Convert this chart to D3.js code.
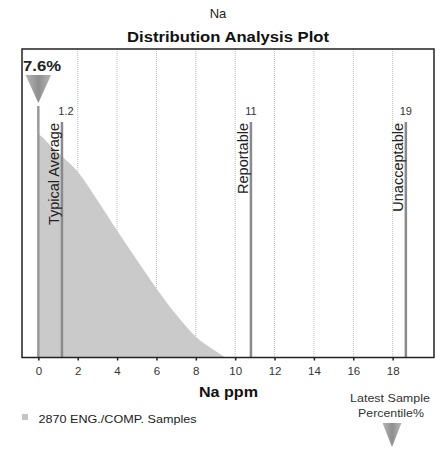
<!DOCTYPE html>
<html><head><meta charset="utf-8">
<script src="https://cdn.jsdelivr.net/npm/d3@7"></script>
<style>
html,body{margin:0;padding:0;background:#fff;}
svg{display:block;font-family:"Liberation Sans",Arial,sans-serif;}
</style></head>
<body>
<script>
// ---- data ----
const title = "Na";
const subtitle = "Distribution Analysis Plot";
const xLabel = "Na ppm";
const xTicks = [0, 2, 4, 6, 8, 10, 12, 14, 16, 18];
const distX = [0, 0.1, 0.6, 1.2, 2, 3, 4, 5, 6, 7, 8, 9, 9.5];
const distY = [72.4, 72.0, 68.8, 65.2, 60.2, 51.0, 41.2, 31.7, 22.4, 13.9, 6.7, 2.1, 0];
const limitNames = ["Typical Average", "Reportable", "Unacceptable"];
const limitValues = [1.2, 10.8, 18.67];
const limitLabels = ["1.2", "11", "19"];
const percentileValue = 0;
const percentileLabel = "7.6%";
const legendLabel = "2870 ENG./COMP. Samples";
const latestLabel = ["Latest Sample", "Percentile%"];

const W = 444, H = 449;
const L = 22, R = 434, T = 49, B = 357.5;

const svg = d3.select("body").append("svg").attr("width", W).attr("height", H);
const defs = svg.append("defs");
const g1 = defs.append("linearGradient").attr("id","tri").attr("x1","0").attr("x2","1").attr("y1","0").attr("y2","0");
g1.append("stop").attr("offset","0%").attr("stop-color","#b8b8b8");
g1.append("stop").attr("offset","50%").attr("stop-color","#8e8e8e");
g1.append("stop").attr("offset","100%").attr("stop-color","#b8b8b8");

const x = d3.scaleLinear().domain([-0.83, 20.1]).range([L, R]);
const y = d3.scaleLinear().domain([0, 100]).range([B, T]);

function txt(sel, len) {
  return sel.attr("textLength", len).attr("lengthAdjust", "spacingAndGlyphs");
}

// titles
svg.append("text").attr("x", 218).attr("y", 18).attr("text-anchor","middle")
  .attr("font-size", 13).attr("fill","#222").text(title);
txt(svg.append("text").attr("x", 228).attr("y", 42).attr("text-anchor","middle")
  .attr("font-size", 14.5).attr("font-weight","bold").attr("fill","#111").text(subtitle), 202);

// grid lines
svg.append("g").selectAll("line").data(xTicks.filter(d => d > 0)).join("line")
  .attr("x1", d => x(d)).attr("x2", d => x(d)).attr("y1", T).attr("y2", B)
  .attr("stroke", "#bdbdbd").attr("stroke-width", 1).attr("stroke-dasharray", "1,1");

// distribution area
const pts = distX.map((d, i) => [d, distY[i]]);
const area = d3.area().x(d => x(d[0])).y0(y(0)).y1(d => y(d[1])).curve(d3.curveMonotoneX);
svg.append("path").datum(pts).attr("d", area).attr("fill", "#cacaca");

// limit lines
const lg = svg.append("g");
limitValues.forEach((v, i) => {
  lg.append("line").attr("x1", x(v)).attr("x2", x(v)).attr("y1", 122).attr("y2", B)
    .attr("stroke", "#8a8a8a").attr("stroke-width", 2.5);
  lg.append("text").attr("x", x(v) + (i === 0 ? 4 : 0)).attr("y", 115).attr("text-anchor","middle")
    .attr("font-size", 11).attr("fill","#333").text(limitLabels[i]);
  lg.append("text").attr("transform", `translate(${x(v) - 3},123) rotate(-90)`)
    .attr("text-anchor","end").attr("font-size", 14.5).attr("fill","#222").text(limitNames[i]);
});

// percentile marker
const px = x(percentileValue);
svg.append("line").attr("x1", px).attr("x2", px).attr("y1", 106).attr("y2", B)
  .attr("stroke", "#9a9a9a").attr("stroke-width", 2.5);
svg.append("path").attr("d", d3.line()([[px - 12.8, 75], [px + 12.8, 75], [px, 103]]) + "Z")
  .attr("fill", "url(#tri)");
txt(svg.append("text").attr("x", 23).attr("y", 71).attr("font-size", 15.5).attr("font-weight","bold")
  .attr("fill","#222").text(percentileLabel), 38);

// frame
svg.append("rect").attr("x", L).attr("y", T).attr("width", R - L).attr("height", B - T)
  .attr("fill", "none").attr("stroke", "#222").attr("stroke-width", 1.5);

// x axis
const ax = svg.append("g").attr("transform", `translate(0,${B})`)
  .call(d3.axisBottom(x).tickValues(xTicks).tickSize(3).tickPadding(6).tickFormat(d3.format("d")));
ax.select(".domain").remove();
ax.selectAll(".tick line").attr("stroke", "#222").attr("stroke-width", 1.5);
ax.selectAll(".tick text").attr("font-size", 11.5).attr("fill", "#333")
  .attr("font-family", '"Liberation Sans",Arial,sans-serif');

txt(svg.append("text").attr("x", 228.5).attr("y", 397).attr("text-anchor","middle")
  .attr("font-size", 14.5).attr("font-weight","bold").attr("fill","#111").text(xLabel), 59);

// legend
svg.append("rect").attr("x", 22).attr("y", 414).attr("width", 6).attr("height", 6).attr("fill", "#c4c4c4");
txt(svg.append("text").attr("x", 38.5).attr("y", 423).attr("font-size", 11.5).attr("fill","#222").text(legendLabel), 158);

// latest sample
txt(svg.append("text").attr("x", 390).attr("y", 402).attr("text-anchor","middle")
  .attr("font-size", 11).attr("fill","#333").text(latestLabel[0]), 80);
txt(svg.append("text").attr("x", 391).attr("y", 417).attr("text-anchor","middle")
  .attr("font-size", 11).attr("fill","#333").text(latestLabel[1]), 66);
svg.append("path").attr("d", d3.line()([[382.5, 423], [401.5, 423], [392, 447]]) + "Z")
  .attr("fill", "url(#tri)");
</script>
</body></html>
